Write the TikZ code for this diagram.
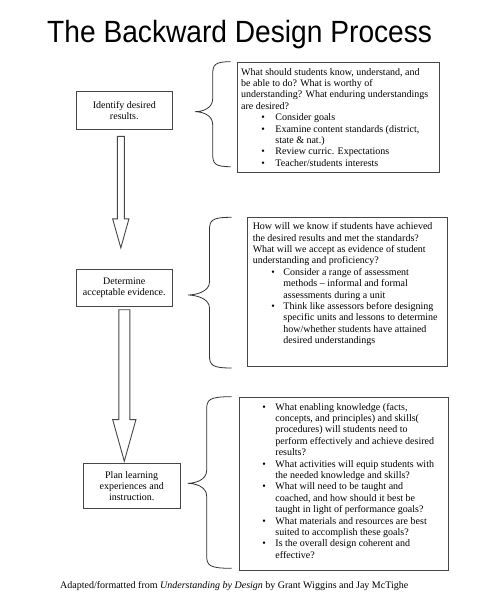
\documentclass[tikz,border=0pt]{standalone}
\usepackage{fontspec}
\usepackage{graphicx}
\setmainfont{Liberation Serif}
\newfontfamily\titlefont{Liberation Sans}
\usetikzlibrary{calc}
\newcommand{\itm}[3]{\hspace*{#1}\makebox[#2][l]{\textbullet}#3}
\newcommand{\cnt}[2]{\hspace*{#1}#2}
\newcommand{\bracepath}[6]{% tipx tipy spinex endx topy boty
  (#4,#5) .. controls (#3+2,#5) and (#3,#5+3) .. (#3,#5+13)
  -- (#3,#2-13) .. controls (#3,#2-3) and (#1+7,#2) .. (#1,#2)
  .. controls (#1+7,#2) and (#3,#2+3) .. (#3,#2+13)
  -- (#3,#6-13) .. controls (#3,#6-3) and (#3+2,#6) .. (#4,#6)}
\begin{document}
\begin{tikzpicture}[x=1pt,y=-1pt,
  line/.style={draw=black!72, line width=0.9pt},
  lbox/.style={line, rectangle, align=center, inner sep=0pt,
    minimum width=96.7pt, font=\fontsize{10pt}{11pt}\selectfont},
  tbox/.style={line, rectangle, anchor=north west, inner ysep=4.3pt},
  blockarrow/.style={line, fill=white, line join=miter},
  bracestyle/.style={draw=black!80, line width=0.8pt}]
\useasboundingbox (0,0) rectangle (489,597);

% title
\node[anchor=base west, inner sep=0pt] (title) at (47,42.7)
  {\titlefont\fontsize{30.7pt}{32pt}\selectfont\scalebox{0.917}[1]{The Backward Design Process}};

% left step boxes
\node[lbox, minimum height=37.3pt] (b1) at (124.3,110.3) {Identify desired\\results.};
\node[lbox, minimum height=37.4pt] (b2) at (124.3,288) {Determine\\acceptable evidence.};
\node[lbox, minimum height=45pt] (b3) at (131.7,485.8) {Plan learning\\experiences and\\instruction.};

% block arrows
\draw[blockarrow] let \p1=(b1.south), \p2=(b2.north) in
  (\x1-7pt,\y1-7pt) -- (\x1,\y1-7pt) -- (\x1,\y2+50pt) -- (\x1+4.65pt,\y2+50pt)
  -- (\x1-3.5pt,\y2+21pt) -- (\x1-11.65pt,\y2+50pt) -- (\x1-7pt,\y2+50pt) -- cycle;
\draw[blockarrow] let \p1=(b2.south), \p2=(b3.north) in
  (\x1-5.5pt,\y1-2.6pt) -- (\x1+5.5pt,\y1-2.6pt) -- (\x1+5.5pt,\y2+43.3pt) -- (\x1+11.65pt,\y2+43.3pt)
  -- (\x1,\y2+1.6pt) -- (\x1-11.65pt,\y2+43.3pt) -- (\x1-5.5pt,\y2+43.3pt) -- cycle;

% text boxes
\node[tbox, inner xsep=4pt] (t1) at (236.7,62.3) {\parbox[t][101.1pt][t]{194.6pt}{%
\fontsize{10pt}{11.4pt}\selectfont\raggedright
\strut What should students know, understand, and\\
be able to do? What is worthy of\\
understanding? What enduring understandings\\
are desired?\\
\itm{20.3pt}{14pt}{Consider goals}\\
\itm{20.3pt}{14pt}{Examine content standards (district,}\\
\cnt{34.3pt}{state \& nat.)}\\
\itm{20.3pt}{14pt}{Review curric. Expectations}\\
\itm{20.3pt}{14pt}{Teacher/students interests}}};

\node[tbox, inner xsep=5.6pt] (t2) at (246.7,217) {\parbox[t][140.1pt][t]{188.8pt}{%
\fontsize{10pt}{11.4pt}\selectfont\raggedright
\strut How will we know if students have achieved\\
the desired results and met the standards?\\
What will we accept as evidence of student\\
understanding and proficiency?\\
\itm{18.7pt}{12pt}{Consider a range of assessment}\\
\cnt{30.7pt}{methods -- informal and formal}\\
\cnt{30.7pt}{assessments during a unit}\\
\itm{18.7pt}{12pt}{Think like assessors before designing}\\
\cnt{30.7pt}{specific units and lessons to determine}\\
\cnt{30.7pt}{how/whether students have attained}\\
\cnt{30.7pt}{desired understandings}}};

\node[tbox, inner xsep=4pt] (t3) at (239.3,397.3) {\parbox[t][164.1pt][t]{201pt}{%
\fontsize{10pt}{11.4pt}\selectfont\raggedright
\strut\itm{18.7pt}{13pt}{What enabling knowledge (facts,}\\
\cnt{31.7pt}{concepts, and principles) and skills(}\\
\cnt{31.7pt}{procedures) will students need to}\\
\cnt{31.7pt}{perform effectively and achieve desired}\\
\cnt{31.7pt}{results?}\\
\itm{18.7pt}{13pt}{What activities will equip students with}\\
\cnt{31.7pt}{the needed knowledge and skills?}\\
\itm{18.7pt}{13pt}{What will need to be taught and}\\
\cnt{31.7pt}{coached, and how should it best be}\\
\cnt{31.7pt}{taught in light of performance goals?}\\
\itm{18.7pt}{13pt}{What materials and resources are best}\\
\cnt{31.7pt}{suited to accomplish these goals?}\\
\itm{18.7pt}{13pt}{Is the overall design coherent and}\\
\cnt{31.7pt}{effective?}}};

% braces
\draw[bracestyle] \bracepath{195}{111.7}{212.7}{230.7}{61.7}{166.7};
\draw[bracestyle] \bracepath{188}{295}{209.5}{231.7}{217.3}{368};
\draw[bracestyle] \bracepath{187.7}{483.3}{206.7}{231.7}{396.7}{568.3};

% footer
\node[anchor=base west, inner sep=0pt] (foot) at (60,588.3)
  {\fontsize{10pt}{12pt}\selectfont Adapted/formatted from \textit{Understanding by Design} by Grant Wiggins and Jay McTighe};
\end{tikzpicture}
\end{document}
